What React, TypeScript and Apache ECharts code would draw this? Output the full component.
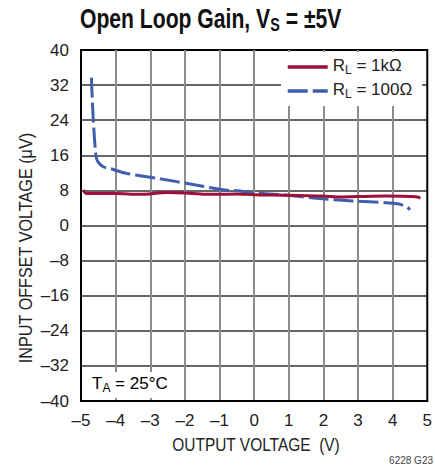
import React, { useEffect, useRef } from "react";
import * as echarts from "echarts";

const xTicksMin = -5;
const xTicksMax = 5;
const yTicksMin = -40;
const yTicksMax = 40;
const yStep = 8;

const red1kX = [-4.93, -4.85, -4.5, -4.0, -3.3, -2.5, -2.0, -1.4, -0.5, 0.0, 0.95, 2.0, 2.4, 3.0, 3.8, 4.5, 4.72, 4.8];
const red1kY = [8.1, 7.3, 7.3, 7.3, 7.1, 7.5, 7.4, 7.1, 7.2, 7.0, 6.9, 6.7, 6.5, 6.6, 6.7, 6.6, 6.5, 6.2];

const blue100X = [-4.7, -4.65, -4.57, -4.51, -4.36, -4.17, -3.7, -2.75, -1.81, -0.85, -0.47, -0.1, 0.95, 1.81, 2.85, 3.8, 4.18, 4.3, 4.42, 4.5];
const blue100Y = [33.7, 24.8, 16.0, 14.5, 13.4, 13.0, 11.9, 10.7, 9.4, 8.1, 7.9, 7.5, 6.9, 6.2, 5.6, 5.2, 4.9, 4.6, 4.2, 3.6];

const seriesNames = ["RL = 1kΩ", "RL = 100Ω"];
const FONT = "'Liberation Sans', Arial, sans-serif";

const dash = (v: number) => (v < 0 ? "–" + Math.abs(v) : String(v));

export default function App() {
  const ref = useRef<HTMLDivElement>(null);
  useEffect(() => {
    const chart = echarts.init(ref.current!, null, { renderer: "svg" });
    const subRich = {
      a: { fontSize: 17, fontFamily: FONT, color: "#222", verticalAlign: "top", lineHeight: 20 },
      s: { fontSize: 12, fontFamily: FONT, color: "#222", verticalAlign: "top", lineHeight: 20, padding: [7, 0, 0, 0] },
    };
    chart.setOption({
      animation: false,
      legend: {
        orient: "vertical",
        left: 281,
        top: 52,
        width: 150,
        padding: [5, 10, 6, 5],
        itemGap: 5,
        itemWidth: 40,
        itemHeight: 18,
        backgroundColor: "#fff",
        data: seriesNames,
        itemStyle: { opacity: 0 },
        lineStyle: { width: 3.5 },
        formatter: (name: string) =>
          name.startsWith("RL") ? "{a|R}{s|L}{a|" + name.slice(2) + "}" : name,
        textStyle: { rich: subRich },
      },
      grid: {
        left: 81,
        right: 3,
        top: 50,
        bottom: 66,
        show: true,
        borderColor: "#000",
        borderWidth: 2,
        backgroundColor: "#fff",
      },
      xAxis: {
        type: "value",
        min: xTicksMin,
        max: xTicksMax,
        interval: 1,
        axisLine: { show: true, onZero: false, lineStyle: { color: "#000", width: 2 } },
        axisTick: { show: false },
        axisLabel: { color: "#222", fontSize: 17, fontFamily: FONT, margin: 11, formatter: dash },
        splitLine: { show: true, showMinLine: false, showMaxLine: false, lineStyle: { color: "#8c8c8c", width: 2 } },
      },
      yAxis: {
        type: "value",
        min: yTicksMin,
        max: yTicksMax,
        interval: yStep,
        axisLine: { show: true, onZero: false, lineStyle: { color: "#000", width: 2 } },
        axisTick: { show: false },
        axisLabel: { color: "#222", fontSize: 17, fontFamily: FONT, margin: 12, formatter: dash },
        splitLine: { show: true, showMinLine: false, showMaxLine: false, lineStyle: { color: "#333", width: 1.5 } },
      },
      graphic: [
        {
          type: "text",
          x: 80,
          y: 4,
          scaleX: 0.755,
          z: 100,
          style: {
            text: "{a|Open Loop Gain, V}{s|S}{a| = ±5V}",
            rich: {
              a: { fontSize: 28, fontWeight: "bold", fontFamily: FONT, fill: "#111", verticalAlign: "top", lineHeight: 30 },
              s: { fontSize: 19, fontWeight: "bold", fontFamily: FONT, fill: "#111", verticalAlign: "top", lineHeight: 30, padding: [11, 0, 0, 0] },
            } as any,
          },
        },
        {
          type: "text",
          x: 256,
          y: 445,
          scaleX: 0.86,
          z: 100,
          style: {
            text: "OUTPUT VOLTAGE  (V)",
            fontSize: 18,
            fontFamily: FONT,
            fill: "#222",
            align: "center",
            verticalAlign: "middle",
          },
        },
        {
          type: "text",
          x: 26,
          y: 248,
          rotation: Math.PI / 2,
          scaleX: 0.9,
          z: 100,
          style: {
            text: "INPUT OFFSET VOLTAGE (μV)",
            fontSize: 18,
            fontFamily: FONT,
            fill: "#222",
            align: "center",
            verticalAlign: "middle",
          },
        },
        {
          type: "text",
          x: 84,
          y: 372,
          z: 100,
          style: {
            text: "{a|T}{s|A}{a| = 25°C}",
            rich: subRich as any,
            backgroundColor: "#fff",
            padding: [3, 4, 3, 8],
          },
        },
        {
          type: "text",
          right: 2,
          bottom: 2,
          z: 100,
          style: { text: "6228 G23", fontSize: 10, fontFamily: FONT, fill: "#444" },
        },
      ],
      series: [
        {
          name: seriesNames[0],
          type: "line",
          data: red1kX.map((x, i) => [x, red1kY[i]]),
          symbol: "none",
          smooth: 0.3,
          lineStyle: { color: "#9b0f38", width: 3 },
          itemStyle: { color: "#9b0f38" },
          z: 3,
        },
        {
          name: seriesNames[1],
          type: "line",
          data: blue100X.map((x, i) => [x, blue100Y[i]]),
          symbol: "none",
          smooth: 0.3,
          lineStyle: { color: "#3f5fae", width: 3, type: [20, 5] },
          itemStyle: { color: "#3f5fae" },
          z: 2,
        },
      ],
    });
    return () => chart.dispose();
  }, []);
  return <div ref={ref} style={{ width: 435, height: 467, position: "absolute", left: 0, top: 0 }} />;
}
